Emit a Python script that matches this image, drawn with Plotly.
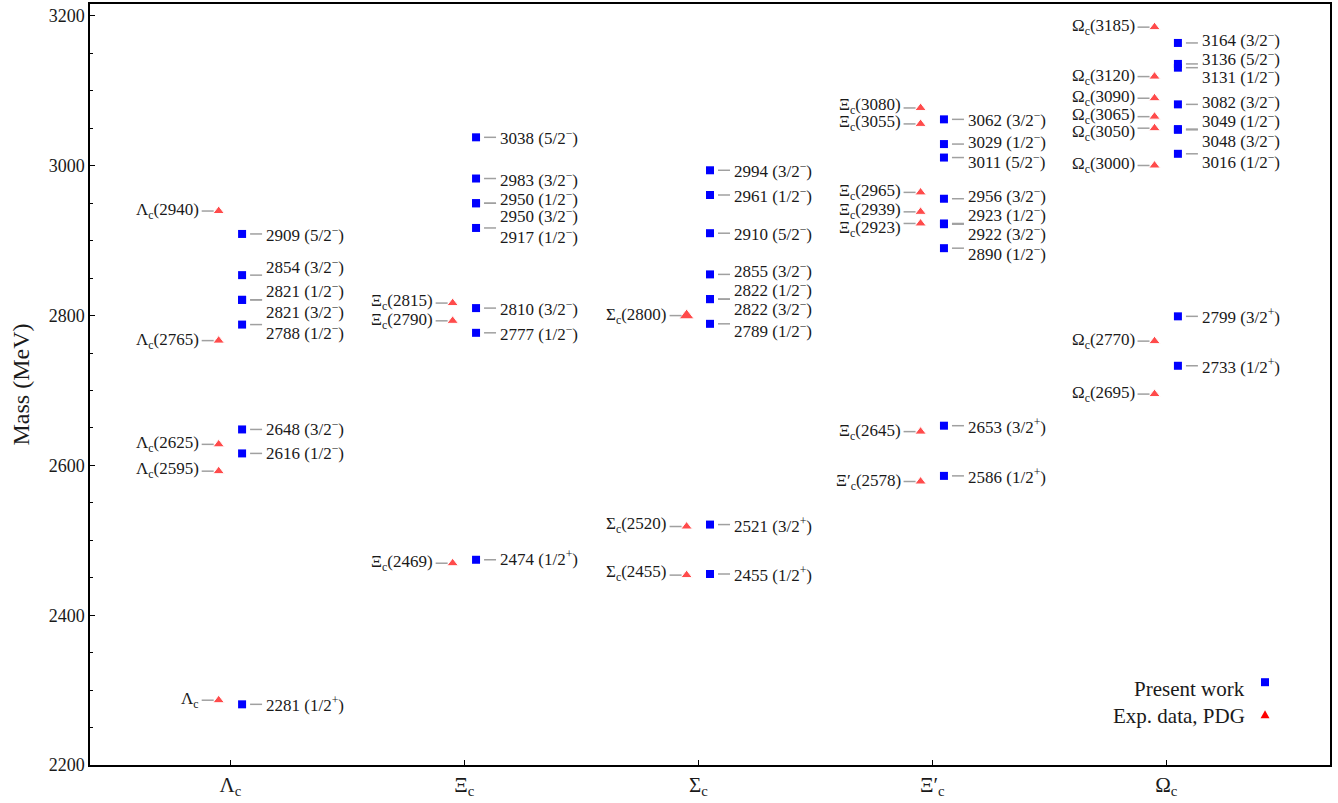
import plotly.graph_objects as go

# ---------------- data ----------------
tick_labels = ["Λ<sub>c</sub>", "Ξ<sub>c</sub>", "Σ<sub>c</sub>", "Ξ′<sub>c</sub>", "Ω<sub>c</sub>"]

# Present work (masses in MeV and J^P)
lam_mass = [2281, 2616, 2648, 2788, 2821, 2821, 2854, 2909]
lam_jp = ["1/2+", "1/2-", "3/2-", "1/2-", "1/2-", "3/2-", "3/2-", "5/2-"]
xi_mass = [2474, 2777, 2810, 2917, 2950, 2950, 2983, 3038]
xi_jp = ["1/2+", "1/2-", "3/2-", "1/2-", "1/2-", "3/2-", "3/2-", "5/2-"]
sig_mass = [2455, 2521, 2789, 2822, 2822, 2855, 2910, 2961, 2994]
sig_jp = ["1/2+", "3/2+", "1/2-", "1/2-", "3/2-", "3/2-", "5/2-", "1/2-", "3/2-"]
xip_mass = [2586, 2653, 2890, 2922, 2923, 2956, 3011, 3029, 3062]
xip_jp = ["1/2+", "3/2+", "1/2-", "3/2-", "1/2-", "3/2-", "5/2-", "1/2-", "3/2-"]
om_mass = [2733, 2799, 3016, 3048, 3049, 3082, 3131, 3136, 3164]
om_jp = ["1/2+", "3/2+", "1/2-", "3/2-", "1/2-", "3/2-", "1/2-", "5/2-", "3/2-"]

# Experimental data (PDG)
lam_exp = [2286.5, 2592.3, 2628.1, 2766.6, 2939.6]
lam_exp_names = ["Λ<sub>c</sub>", "Λ<sub>c</sub>(2595)", "Λ<sub>c</sub>(2625)", "Λ<sub>c</sub>(2765)", "Λ<sub>c</sub>(2940)"]
xi_exp = [2469.4, 2793.0, 2816.7]
xi_exp_names = ["Ξ<sub>c</sub>(2469)", "Ξ<sub>c</sub>(2790)", "Ξ<sub>c</sub>(2815)"]
sig_exp = [2453.5, 2518.4, 2800.0]
sig_exp_names = ["Σ<sub>c</sub>(2455)", "Σ<sub>c</sub>(2520)", "Σ<sub>c</sub>(2800)"]
xip_exp = [2578.5, 2645.1, 2923.0, 2938.5, 2964.5, 3055.9, 3077.2]
xip_exp_names = ["Ξ′<sub>c</sub>(2578)", "Ξ<sub>c</sub>(2645)", "Ξ<sub>c</sub>(2923)", "Ξ<sub>c</sub>(2939)",
                 "Ξ<sub>c</sub>(2965)", "Ξ<sub>c</sub>(3055)", "Ξ<sub>c</sub>(3080)"]
om_exp = [2695.2, 2765.9, 3000.4, 3050.2, 3065.6, 3090.2, 3119.1, 3185.1]
om_exp_names = ["Ω<sub>c</sub>(2695)", "Ω<sub>c</sub>(2770)", "Ω<sub>c</sub>(3000)", "Ω<sub>c</sub>(3050)",
                "Ω<sub>c</sub>(3065)", "Ω<sub>c</sub>(3090)", "Ω<sub>c</sub>(3120)", "Ω<sub>c</sub>(3185)"]

# ---------------- label layout (pixel shifts, positive = up) ----------------
lam_shift = [0, 1, 1, -7, 10, -11, 9, 0]
xi_shift = [2, 0, 0, -8, 5, -12, 0, 0]
sig_shift = [0, 0, -6, 10, -9, 4, 0, 0, 0]
xip_shift = [0, 0, -5, -9, 9, 4, -3, 3, 0]
om_shift = [0, 0, -7, -10, 9, 3, -8, 6, 4]

lam_exp_shift = [0, 1, 0, 0, 0]
xi_exp_shift = [0, 0, 1]
sig_exp_shift = [2, 2, 0]
xip_exp_shift = [0, 0, -6, 1, 0, 1, 2]
om_exp_shift = [0, 0, 0, -5, 1, 0, 0, 0]

present = [lam_mass, xi_mass, sig_mass, xip_mass, om_mass]
present_jp = [lam_jp, xi_jp, sig_jp, xip_jp, om_jp]
present_shift = [lam_shift, xi_shift, sig_shift, xip_shift, om_shift]
exp = [lam_exp, xi_exp, sig_exp, xip_exp, om_exp]
exp_names = [lam_exp_names, xi_exp_names, sig_exp_names, xip_exp_names, om_exp_names]
exp_shift = [lam_exp_shift, xi_exp_shift, sig_exp_shift, xip_exp_shift, om_exp_shift]

FONT = "Liberation Serif, DejaVu Serif, serif"
DX = 0.05
GRAY = "#a0a0a0"
LBL = 17
TXT = "#1a1a1a"


def fmt_jp(jp):
    frac, par = jp[:-1], jp[-1]
    sign = "+" if par == "+" else "−"
    return f"({frac}<sup>{sign}</sup>)"


fig = go.Figure()

bx, by, rx, ry, rs = [], [], [], [], []
annotations = []
shapes = []

for i in range(5):
    xb = i + DX
    for m, jp, sh in zip(present[i], present_jp[i], present_shift[i]):
        bx.append(xb)
        by.append(m)
        annotations.append(dict(x=xb, y=m, xref="x", yref="y", text=f"{m} {fmt_jp(jp)}",
                                showarrow=False, xanchor="left", yanchor="middle",
                                xshift=22, yshift=sh, font=dict(family=FONT, size=LBL, color=TXT)))
        shapes.append(dict(type="line", xref="x", yref="y", xsizemode="pixel", ysizemode="pixel",
                           xanchor=xb, yanchor=m, x0=8, x1=20, y0=0, y1=0,
                           line=dict(color=GRAY, width=1.5)))
    xr = i - DX
    for m, nm, sh in zip(exp[i], exp_names[i], exp_shift[i]):
        rx.append(xr)
        ry.append(m)
        rs.append(13 if nm.startswith("Σ<sub>c</sub>(2800") else 10)
        annotations.append(dict(x=xr, y=m, xref="x", yref="y", text=nm,
                                showarrow=False, xanchor="right", yanchor="middle",
                                xshift=-18, yshift=sh, font=dict(family=FONT, size=LBL, color=TXT)))
        shapes.append(dict(type="line", xref="x", yref="y", xsizemode="pixel", ysizemode="pixel",
                           xanchor=xr, yanchor=m, x0=-17, x1=-5, y0=0, y1=0,
                           line=dict(color=GRAY, width=1.5)))

fig.add_trace(go.Scatter(x=bx, y=by, mode="markers", name="Present work", showlegend=False,
                         marker=dict(symbol="square", size=8, color="#0000ff")))
fig.add_trace(go.Scatter(x=rx, y=ry, mode="markers", name="Exp. data, PDG", showlegend=False,
                         marker=dict(symbol="triangle-up", size=rs, color="#ff0000")))

# legend (text on the left, marker on the right)
annotations.append(dict(x=0.933, y=0.0996, xref="paper", yref="paper", text="Present work",
                        showarrow=False, xanchor="right", yanchor="middle",
                        font=dict(family=FONT, size=21, color=TXT)))
annotations.append(dict(x=0.933, y=0.064, xref="paper", yref="paper", text="Exp. data, PDG",
                        showarrow=False, xanchor="right", yanchor="middle",
                        font=dict(family=FONT, size=21, color=TXT)))
shapes.append(dict(type="rect", xref="paper", yref="paper", xsizemode="pixel", ysizemode="pixel",
                   xanchor=0.9476, yanchor=0.1088, x0=-4, x1=4, y0=-4, y1=4,
                   fillcolor="#0000ff", line=dict(width=0)))
shapes.append(dict(type="path", xref="paper", yref="paper", xsizemode="pixel", ysizemode="pixel",
                   xanchor=0.9476, yanchor=0.066, path="M -4.5 -3.5 L 4.5 -3.5 L 0 4.5 Z",
                   fillcolor="#ff0000", line=dict(width=0)))

fig.update_layout(
    width=1338, height=803,
    margin=dict(l=90, r=8, t=2, b=38),
    paper_bgcolor="white", plot_bgcolor="white",
    font=dict(family=FONT, color=TXT),
    annotations=annotations, shapes=shapes,
    showlegend=False,
)
fig.update_xaxes(range=[-0.6, 4.7], tickmode="array", tickvals=[0, 1, 2, 3, 4], ticktext=tick_labels,
                 ticks="inside", ticklen=5, tickwidth=1, tickcolor="black",
                 showline=True, linecolor="black", linewidth=1.5, mirror=True,
                 showgrid=False, zeroline=False, tickfont=dict(family=FONT, size=21, color=TXT))
fig.update_yaxes(range=[2200, 3216], dtick=200, tick0=2200,
                 ticks="inside", ticklen=5, tickwidth=1, tickcolor="black",
                 minor=dict(dtick=50, ticks="inside", ticklen=3, tickcolor="black", showgrid=False),
                 showline=True, linecolor="black", linewidth=1.5, mirror=True,
                 showgrid=False, zeroline=False, tickfont=dict(family=FONT, size=18, color=TXT),
                 title=dict(text="Mass (MeV)", font=dict(family=FONT, size=24, color=TXT), standoff=12))

fig.write_html("out.html", config={"displayModeBar": False},
               post_script="document.body.style.margin='0';")
